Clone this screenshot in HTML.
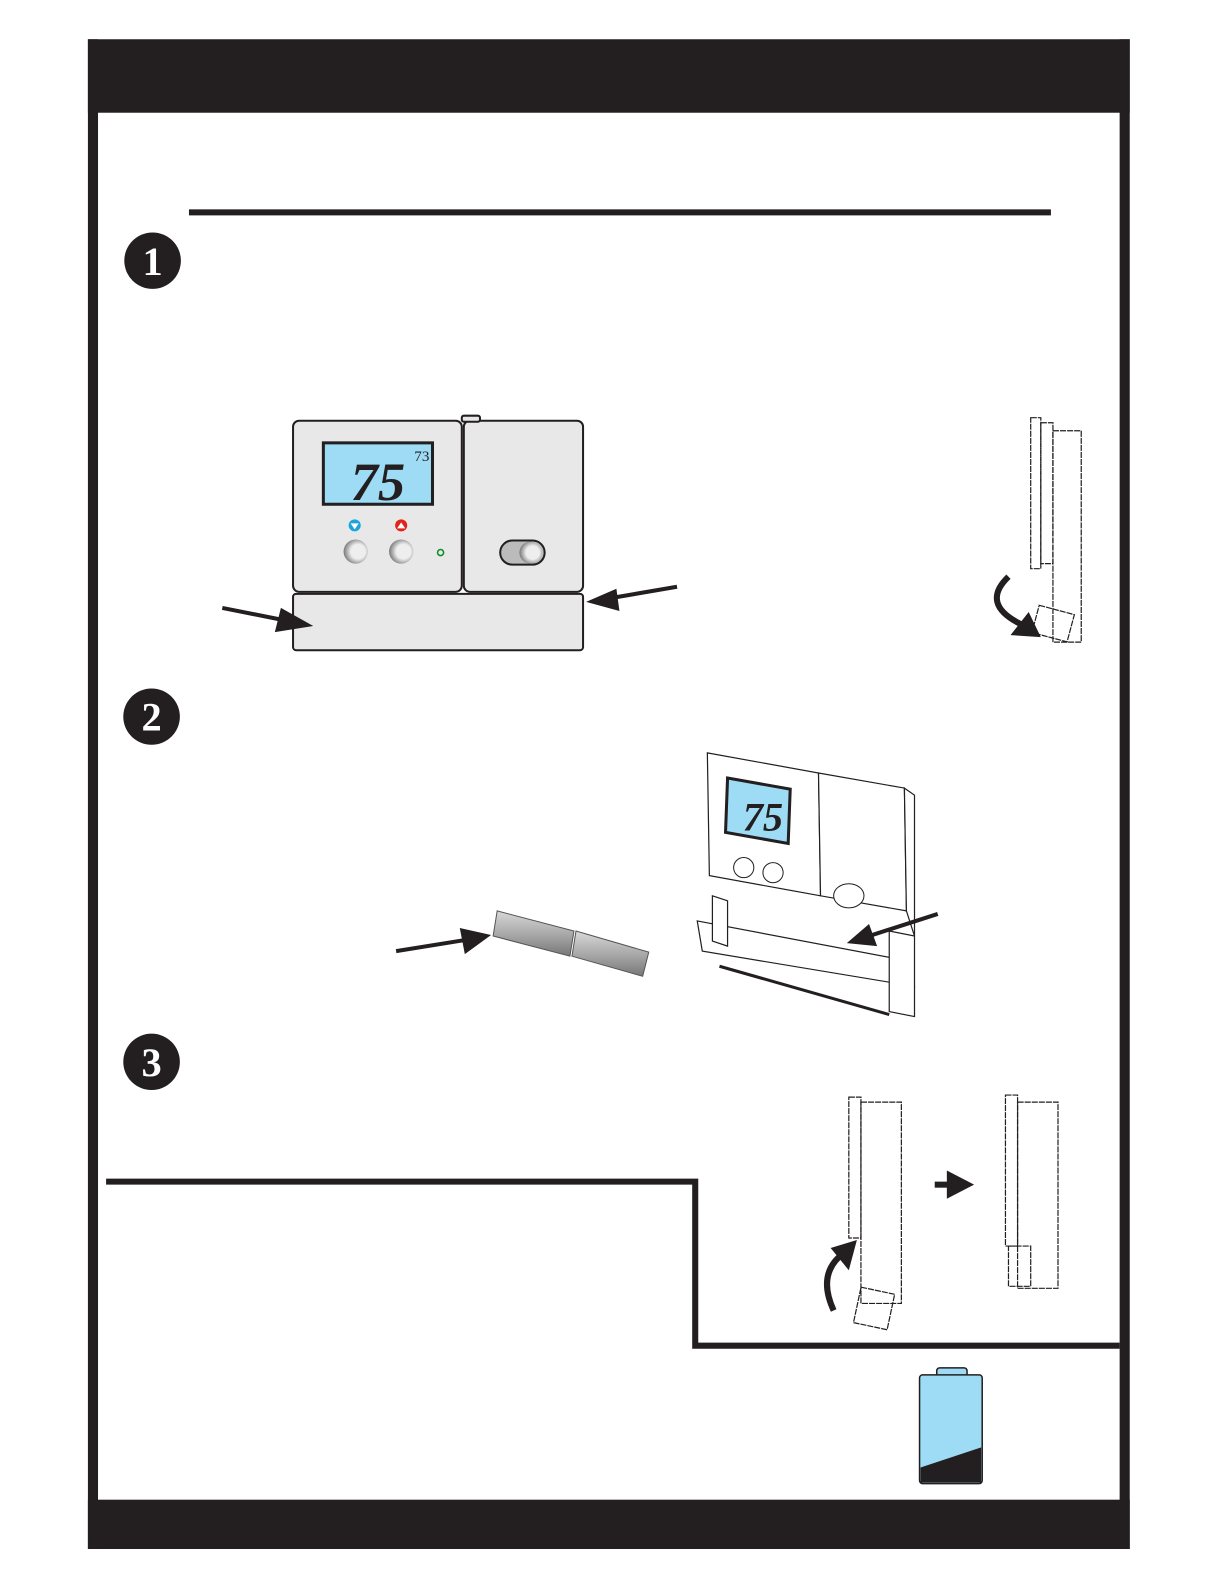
<!DOCTYPE html>
<html><head><meta charset="utf-8"><style>
html,body{margin:0;padding:0;background:#fff;}
svg{display:block;}
text{font-family:"Liberation Serif",serif;}
</style></head><body>
<svg width="1224" height="1584" viewBox="0 0 1224 1584" xmlns="http://www.w3.org/2000/svg">
<defs>
<radialGradient id="btn" cx="0.6" cy="0.5" r="0.6"><stop offset="0.5" stop-color="#eee"/><stop offset="1" stop-color="#777"/></radialGradient>
<linearGradient id="bat" x1="0" y1="0" x2="0" y2="1"><stop offset="0" stop-color="#d8d8d8"/><stop offset="0.5" stop-color="#aaa"/><stop offset="1" stop-color="#777"/></linearGradient>
</defs>
<g transform="scale(1.0105 1.0065)">
<!-- frame -->
<rect x="87" y="39" width="1031" height="73" fill="#231f20"/>
<rect x="87" y="39" width="10" height="1500" fill="#231f20"/>
<rect x="1108" y="39" width="10" height="1500" fill="#231f20"/>
<rect x="87" y="1490" width="1031" height="49" fill="#231f20"/>
<!-- rule -->
<rect x="187" y="208" width="853" height="6" fill="#231f20"/>
<!-- numbered circles -->
<g fill="#231f20"><circle cx="151" cy="259" r="28"/><circle cx="150" cy="712" r="28"/><circle cx="150" cy="1055" r="28"/></g>
<g fill="#fff" font-size="40" font-weight="bold" text-anchor="middle"><text x="151" y="273">1</text><text x="150" y="726">2</text><text x="150" y="1069">3</text></g>
<!-- step 3 box lines -->
<path d="M105 1174 H688 V1337 H1108" fill="none" stroke="#231f20" stroke-width="6"/>
<!-- thermostat front -->
<g stroke="#231f20" stroke-width="2" fill="#e8e8e9">
<rect x="290" y="590" width="287" height="56" rx="3"/>
<rect x="290" y="418" width="167" height="170" rx="6"/>
<rect x="459" y="418" width="118" height="170" rx="6"/>
<rect x="457" y="413" width="18" height="6" rx="2"/>
</g>
<rect x="320" y="440" width="108" height="61" fill="#9edcf5" stroke="#231f20" stroke-width="3"/>
<text x="347" y="497" font-size="54" font-family="Liberation Sans" font-style="italic" font-weight="bold" fill="#231f20">75</text>
<text x="410" y="458" font-size="15" font-family="Liberation Sans" fill="#231f20">73</text>
<circle cx="351" cy="522" r="6" fill="#1ea4dc"/><path d="M347 520 h8 l-4 6z" fill="#fff"/>
<circle cx="397" cy="522" r="6" fill="#e2231a"/><path d="M393 525 h8 l-4 -6z" fill="#fff"/>
<circle cx="352" cy="548" r="12" fill="url(#btn)"/><circle cx="397" cy="548" r="12" fill="url(#btn)"/>
<circle cx="436" cy="549" r="3" fill="none" stroke="#0a8a2a" stroke-width="1.5"/>
<rect x="495" y="537" width="44" height="24" rx="12" fill="#bbb" stroke="#231f20" stroke-width="2"/>
<circle cx="525" cy="549" r="11" fill="url(#btn)"/>
<!-- arrows step1 -->
<g fill="#231f20" stroke="#231f20">
<line x1="220" y1="604" x2="285" y2="617" stroke-width="4"/><path d="M310 622 L272 628 L278 604z" stroke="none"/>
<line x1="670" y1="583" x2="600" y2="595" stroke-width="4"/><path d="M580 598 L610 585 L613 607z" stroke="none"/>
</g>
<!-- side view 1 -->
<g fill="none" stroke="#231f20" stroke-width="1.2" stroke-dasharray="6 1">
<rect x="1030" y="420" width="12" height="140"/><rect x="1042" y="428" width="28" height="210"/>
<rect x="1020" y="415" width="10" height="150"/><rect x="1024" y="605" width="36" height="28" transform="rotate(15 1040 620)"/>
</g>
<path d="M998 573 Q970 600 1010 620" fill="none" stroke="#231f20" stroke-width="6"/>
<path d="M1030 633 L1000 631 L1018 608z" fill="#231f20"/>
<!-- batteries -->
<g stroke="#555" stroke-width="1">
<path d="M492 905 L568 925 L564 950 L488 930z" fill="url(#bat)"/>
<path d="M570 925 L642 946 L636 970 L566 950z" fill="url(#bat)"/>
</g>
<line x1="392" y1="945" x2="460" y2="934" stroke="#231f20" stroke-width="4"/>
<path d="M486 929 L455 922 L460 948z" fill="#231f20"/>
<!-- 3D thermostat -->
<g fill="#fff" stroke="#231f20" stroke-width="1.2">
<path d="M700 748 L810 768 L812 890 L702 870z"/>
<path d="M810 768 L895 783 L897 905 L812 890z"/>
<path d="M895 783 L905 790 L905 930 L897 905z"/>
<path d="M690 915 L900 955 L905 980 L695 945z"/>
<line x1="712" y1="960" x2="880" y2="1008" stroke-width="3"/>
<path d="M705 890 L720 895 L720 940 L705 935z"/>
<path d="M880 925 L905 930 L905 1010 L880 1005z"/>
</g>
<path d="M720 773 L782 784 L780 838 L718 827z" fill="#9edcf5" stroke="#231f20" stroke-width="3"/>
<text x="735" y="825" font-size="40" font-family="Liberation Sans" font-style="italic" font-weight="bold" fill="#231f20">75</text>
<circle cx="736" cy="862" r="10" fill="#fff" stroke="#231f20"/><circle cx="765" cy="867" r="10" fill="#fff" stroke="#231f20"/>
<ellipse cx="840" cy="890" rx="15" ry="12" fill="#fff" stroke="#231f20"/>
<line x1="928" y1="908" x2="860" y2="930" stroke="#231f20" stroke-width="4"/>
<path d="M838 937 L860 918 L868 940z" fill="#231f20"/>
<!-- step 3 side views -->
<g fill="none" stroke="#231f20" stroke-width="1.2" stroke-dasharray="6 1">
<rect x="840" y="1090" width="12" height="140"/><rect x="852" y="1095" width="40" height="200"/>
<rect x="848" y="1282" width="34" height="36" transform="rotate(12 865 1300)"/>
<rect x="995" y="1088" width="12" height="150"/><rect x="1007" y="1095" width="40" height="185"/>
<rect x="998" y="1238" width="22" height="40"/>
</g>
<path d="M825 1302 Q808 1265 835 1245" fill="none" stroke="#231f20" stroke-width="6"/>
<path d="M848 1232 L822 1240 L840 1262z" fill="#231f20"/>
<rect x="925" y="1174" width="14" height="6" fill="#231f20"/>
<path d="M937 1163 L964 1177 L937 1191z" fill="#231f20"/>
<!-- battery icon -->
<rect x="927" y="1359" width="30" height="9" rx="3" fill="#9edcf5" stroke="#231f20" stroke-width="1.5"/>
<rect x="910" y="1366" width="62" height="108" rx="3" fill="#9edcf5" stroke="#231f20" stroke-width="1.5"/>
<path d="M911 1458 L971 1438 L971 1473 L911 1473z" fill="#231f20"/>
</g>
</svg>
</body></html>
